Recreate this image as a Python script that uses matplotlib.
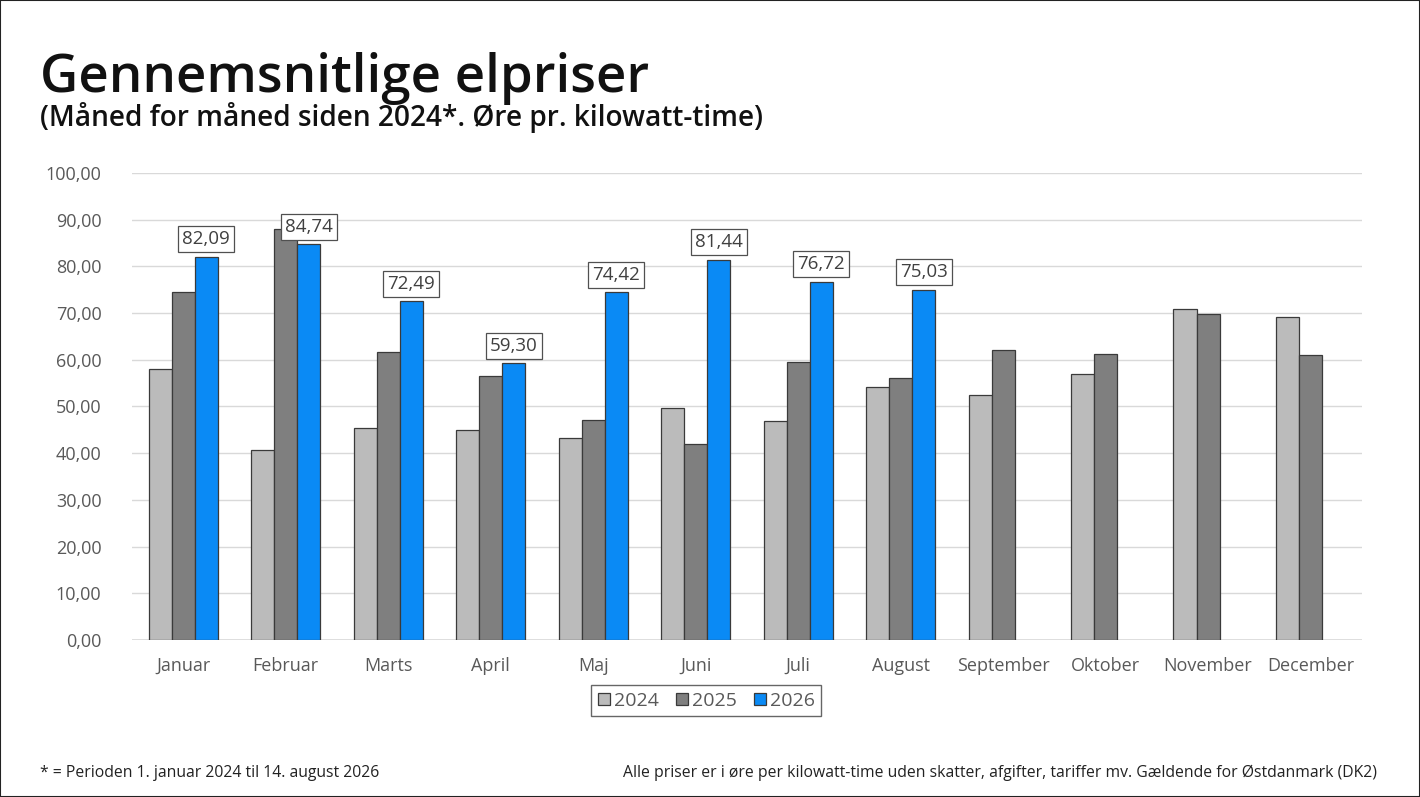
import matplotlib
matplotlib.use("Agg")
import matplotlib.pyplot as plt
from matplotlib.patches import Rectangle
import numpy as np

plt.rcParams['font.family'] = ['Open Sans', 'DejaVu Sans']

# data
months = ["Januar", "Februar", "Marts", "April", "Maj", "Juni", "Juli",
          "August", "September", "Oktober", "November", "December"]
years = ["2024", "2025", "2026"]
p2024 = [58.1, 40.7, 45.4, 45.0, 43.3, 49.7, 46.8, 54.1, 52.4, 56.9, 70.9, 69.1]
p2025 = [74.6, 87.9, 61.6, 56.5, 47.0, 41.9, 59.5, 56.1, 62.0, 61.2, 69.9, 61.1]
p2026 = [82.09, 84.74, 72.49, 59.30, 74.42, 81.44, 76.72, 75.03]
yticks = [0, 10, 20, 30, 40, 50, 60, 70, 80, 90, 100]

colors = ["#BBBBBB", "#7F7F7F", "#0A8AF5"]
txt_gray = "#595959"

fig = plt.figure(figsize=(14.2, 7.97), dpi=100)
ax = fig.add_axes([0.093, 0.197, 0.866, 0.586])

x = np.arange(len(months))
w = 0.225
series = [p2024, p2025, p2026]
for i, (vals, c, lab) in enumerate(zip(series, colors, years)):
    xs = x[:len(vals)] + (i - 1) * w
    bars = ax.bar(xs, vals, width=w, color=c, edgecolor="#3a3a3a",
                  linewidth=0.9, label=lab, zorder=3)
    if lab == "2026":
        for xi, v in zip(xs, vals):
            ax.annotate(f"{v:.2f}".replace(".", ","), (xi, v),
                        xytext=(0, 6), textcoords="offset points",
                        ha="center", va="bottom", fontsize=13.5, color="#404040",
                        bbox=dict(boxstyle="square,pad=0.22", fc="white",
                                  ec="#505050", lw=0.9), zorder=5)

ax.set_xlim(-0.5, len(months) - 0.5)
ax.set_ylim(0, 100)
ax.set_yticks(yticks)
ax.set_yticklabels([f"{t:.2f}".replace(".", ",") for t in yticks])
ax.set_xticks(x)
ax.set_xticklabels(months)
ax.tick_params(axis="both", length=0, labelsize=13, labelcolor=txt_gray)
ax.tick_params(axis="y", pad=22)
ax.tick_params(axis="x", pad=12)
ax.grid(axis="y", color="#D9D9D9", linewidth=1, zorder=0)
for s in ax.spines.values():
    s.set_visible(False)
ax.axhline(0, color="#D9D9D9", linewidth=1.2, zorder=2)

leg = ax.legend(loc="upper center", bbox_to_anchor=(0.467, -0.075), ncol=3,
                frameon=True, fancybox=False, fontsize=14, handlelength=0.6,
                handleheight=0.6, handletextpad=0.2, columnspacing=0.9,
                borderpad=0.35)
leg.get_frame().set_edgecolor("#404040")
leg.get_frame().set_linewidth(1.0)
for t in leg.get_texts():
    t.set_color(txt_gray)

fig.text(0.028, 0.885, "Gennemsnitlige elpriser", fontsize=38, fontweight="semibold",
         color="#111111", va="baseline")
fig.text(0.028, 0.842, "(Måned for måned siden 2024*. Øre pr. kilowatt-time)",
         fontsize=20.2, fontweight="semibold", color="#111111", va="baseline")
fig.text(0.028, 0.025, "* = Perioden 1. januar 2024 til 14. august 2026",
         fontsize=11.3, color="#222222", va="baseline")
fig.text(0.970, 0.025,
         "Alle priser er i øre per kilowatt-time uden skatter, afgifter, tariffer mv. Gældende for Østdanmark (DK2)",
         fontsize=11.3, color="#222222", va="baseline", ha="right")

fig.patches.append(Rectangle((0, 0), 1, 1, transform=fig.transFigure,
                             fill=False, ec="#222222", lw=1.5))

fig.savefig("out.png", dpi=100)
